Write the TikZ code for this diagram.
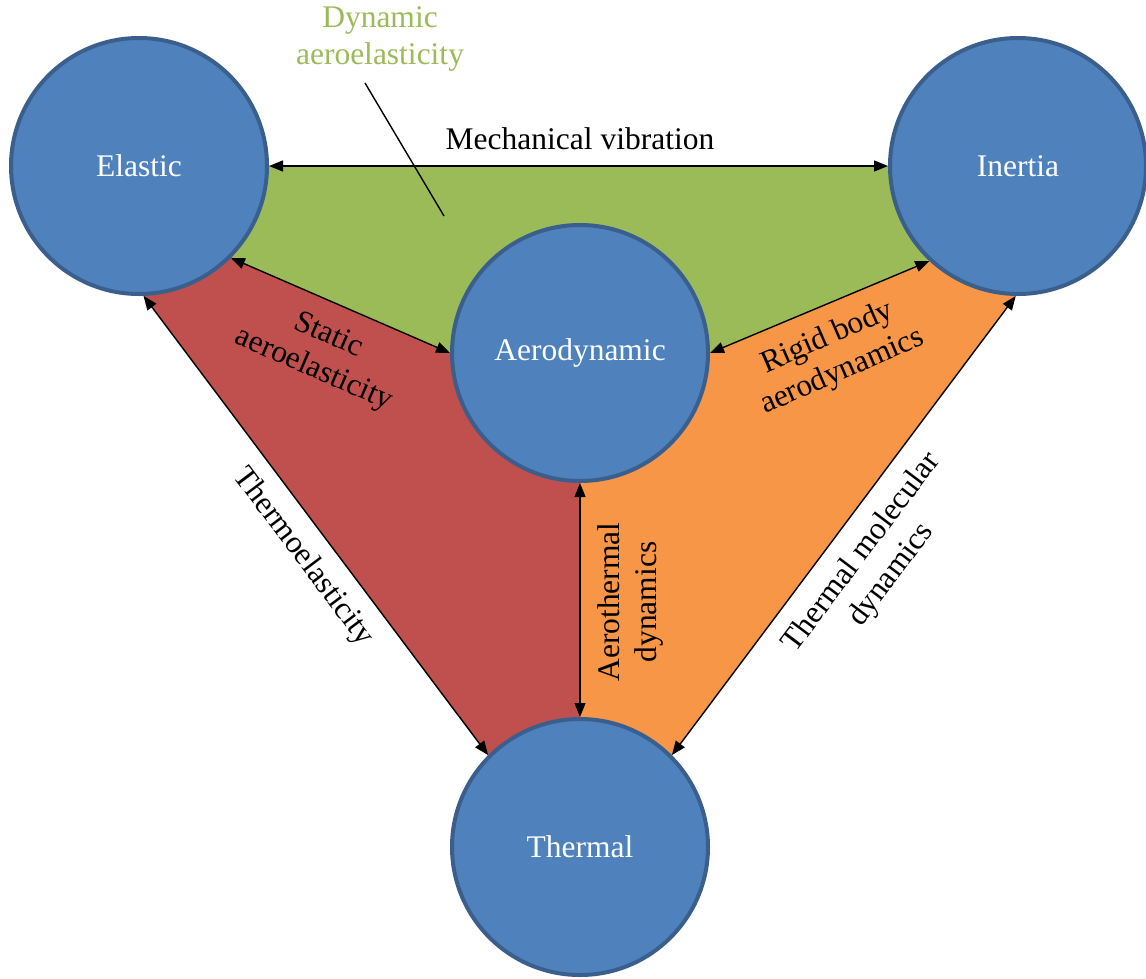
\documentclass[tikz,border=0pt]{standalone}
\usepackage{fontspec}
\setmainfont{Liberation Serif}
\usetikzlibrary{arrows.meta,backgrounds}
\definecolor{cblue}{HTML}{4F81BD}
\definecolor{cborder}{HTML}{3A5F8D}
\definecolor{cgreen}{HTML}{9BBB59}
\definecolor{cred}{HTML}{C0504D}
\definecolor{corange}{HTML}{F79646}
\begin{document}
\begin{tikzpicture}[x=1pt,y=-1pt,
  every node/.style={font=\fontsize{31.5}{37}\selectfont},
  ball/.style={circle,draw=cborder,line width=4pt,fill=cblue,minimum size=256pt,inner sep=0pt,text=white},
  link/.style={{Triangle[length=14pt,width=11pt]}-{Triangle[length=14pt,width=11pt]},line width=1.4pt,draw=black},
  lbl/.style={align=center,inner sep=0pt}]
\useasboundingbox (0,0) rectangle (1146,978);
\node[ball] (E) at (139,166) {Elastic};
\node[ball] (I) at (1018,166) {Inertia};
\node[ball] (A) at (580,353) {Aerodynamic};
\node[ball] (T) at (580,847) {Thermal};
\begin{pgfonlayer}{background}
  \fill[cgreen] (E.center) -- (I.center) -- (I.-133) -- (A.east) -- (A.center) -- (A.west) -- (E.-45) -- cycle;
  \fill[cred] (E.center) -- (E.-45) -- (A.west) -- (A.center) -- (T.center) -- (T.135) -- (E.-88.5) -- cycle;
  \fill[corange] (I.center) -- (I.-133) -- (A.east) -- (A.center) -- (T.center) -- (T.45) -- (I.-91.5) -- cycle;
\end{pgfonlayer}
\draw[link] (E.east) -- (I.west);
\draw[link] (E.-45) -- (A.west);
\draw[link] (A.east) -- (I.-133);
\draw[link] (E.-88.5) -- (T.135);
\draw[link] (I.-91.5) -- (T.45);
\draw[link] (A.south) -- (T.north);
\node[lbl,text=cgreen] (dyn) at (380,39) {Dynamic\\aeroelasticity};
\coordinate (dyntop) at (365,83);
\coordinate (dynend) at (444,216);
\draw[line width=1.4pt] (dyntop) -- (dynend);
\node[lbl] (mv) at (580,139) {Mechanical vibration};
\node[lbl,rotate=-23.5] (sa) at (321,353) {Static\\aeroelasticity};
\node[lbl,rotate=23.5] (rb) at (835,355) {Rigid body\\aerodynamics};
\node[lbl,rotate=-53] (te) at (303,557) {Thermoelasticity};
\node[lbl,rotate=53] (tm) at (877,564) {Thermal molecular\\dynamics};
\node[lbl,rotate=90] (at) at (630,602) {Aerothermal\\dynamics};
\end{tikzpicture}
\end{document}
